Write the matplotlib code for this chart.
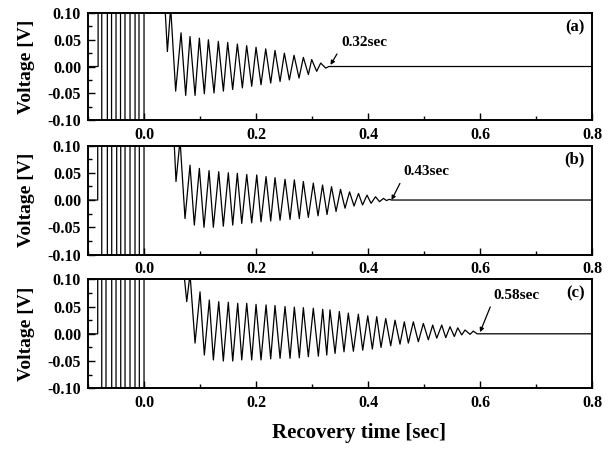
import matplotlib.pyplot as plt
from matplotlib.ticker import MultipleLocator, FormatStrFormatter

plt.rcParams['font.family'] = 'Liberation Serif'
plt.rcParams['font.weight'] = 'bold'
plt.rcParams['axes.unicode_minus'] = False

# saturated switching before the fault clears (sec)
switch_a = [-0.082, -0.0755, -0.0655, -0.058, -0.050, -0.042, -0.034, -0.025, -0.016, -0.009, 0.0]
switch_b = [-0.0827, -0.0755, -0.0655, -0.0577, -0.0488, -0.0416, -0.0339, -0.025, -0.0161, -0.0084, 0.0]
switch_c = [-0.0827, -0.0755, -0.0679, -0.0577, -0.050, -0.0416, -0.0339, -0.025, -0.0161, -0.0084, 0.0]
clip_level = 0.2

# peaks of the decaying oscillation (time, voltage)
osc_t_a = [0.0375, 0.0417, 0.0476, 0.0565, 0.0661, 0.0744, 0.0821, 0.0911, 0.0988, 0.1077,
           0.1149, 0.125, 0.1327, 0.1417, 0.1494, 0.1583, 0.1667, 0.1756, 0.1833, 0.1923,
           0.2, 0.2089, 0.2173, 0.2262, 0.2339, 0.2429, 0.2506, 0.2595, 0.2679, 0.2768,
           0.2845, 0.2935, 0.2994, 0.3083, 0.3155, 0.3244, 0.33]
osc_v_a = [0.11, 0.028, 0.11, -0.046, 0.063, -0.054, 0.056, -0.054, 0.053, -0.051,
           0.050, -0.0495, 0.047, -0.046, 0.045, -0.043, 0.042, -0.040, 0.039, -0.037,
           0.036, -0.034, 0.033, -0.031, 0.030, -0.028, 0.025, -0.025, 0.021, -0.0215,
           0.017, -0.015, 0.013, -0.009, 0.0065, -0.003, 0.0]

osc_t_b = [0.0536, 0.0571, 0.0643, 0.0732, 0.0821, 0.0898, 0.0988, 0.1071, 0.1161, 0.1238,
           0.1334, 0.1416, 0.1505, 0.1584, 0.1666, 0.1745, 0.1834, 0.1923, 0.2013, 0.2089,
           0.2179, 0.2262, 0.2339, 0.2429, 0.2518, 0.2607, 0.2684, 0.2773, 0.2845, 0.2934,
           0.3023, 0.3107, 0.3188, 0.3268, 0.3348, 0.3429, 0.3509, 0.3589, 0.367, 0.375,
           0.383, 0.3902, 0.3982, 0.4054, 0.4134, 0.4205, 0.4277, 0.433, 0.4375, 0.4423]
osc_v_b = [0.11, 0.034, 0.11, -0.034, 0.064, -0.046, 0.058, -0.050, 0.054, -0.050,
           0.052, -0.048, 0.050, -0.046, 0.049, -0.043, 0.047, -0.042, 0.046, -0.040,
           0.043, -0.0385, 0.041, -0.037, 0.038, -0.0355, 0.037, -0.034, 0.034, -0.032,
           0.031, -0.029, 0.0275, -0.0265, 0.0245, -0.021, 0.0196, -0.015, 0.015, -0.011,
           0.012, -0.009, 0.009, -0.006, 0.006, -0.003, 0.003, -0.001, 0.0012, 0.0]

osc_t_c = [0.0714, 0.0763, 0.0821, 0.0911, 0.1, 0.1077, 0.1166, 0.1238, 0.1334, 0.1416,
           0.1505, 0.1584, 0.1673, 0.1745, 0.1834, 0.1923, 0.2, 0.2089, 0.2179, 0.2262,
           0.2339, 0.2429, 0.2518, 0.2607, 0.2684, 0.2773, 0.2845, 0.2934, 0.3023, 0.3113,
           0.3191, 0.3263, 0.3321, 0.3411, 0.3488, 0.3571, 0.3648, 0.3738, 0.3827, 0.3905,
           0.3995, 0.4077, 0.4155, 0.4232, 0.4316, 0.4405, 0.4482, 0.4571, 0.4648, 0.472,
           0.4809, 0.4898, 0.4988, 0.5077, 0.5155, 0.5227, 0.5316, 0.5388, 0.5464, 0.5541,
           0.5602, 0.5673, 0.5732, 0.5821, 0.588, 0.5946]
osc_v_c = [0.11, 0.059, 0.11, -0.017, 0.077, -0.039, 0.062, -0.048, 0.059, -0.050,
           0.058, -0.050, 0.056, -0.048, 0.056, -0.048, 0.054, -0.048, 0.053, -0.046,
           0.052, -0.045, 0.050, -0.045, 0.049, -0.044, 0.048, -0.042, 0.047, -0.041,
           0.045, -0.039, 0.044, -0.036, 0.041, -0.033, 0.038, -0.032, 0.036, -0.030,
           0.033, -0.028, 0.0315, -0.025, 0.028, -0.022, 0.025, -0.019, 0.022, -0.017,
           0.022, -0.0145, 0.019, -0.011, 0.016, -0.008, 0.016, -0.007, 0.013, -0.005,
           0.011, -0.002, 0.007, -0.001, 0.005, 0.0]

panel_labels = ['(a)', '(b)', '(c)']
recovery_labels = ['0.32sec', '0.43sec', '0.58sec']
recovery_tip = [(0.333, 0.003), (0.442, 0.0), (0.600, 0.003)]
recovery_text = [(0.352, 0.044), (0.464, 0.052), (0.624, 0.071)]
t_end = 0.8


def build_trace(switches, osc_t, osc_v):
    xs = [-0.1]
    ys = [0.0]
    level = 0.0
    up = True
    for s in switches:
        new = clip_level if up else -clip_level
        xs += [s, s]
        ys += [level, new]
        level = new
        up = not up
    xs += osc_t + [t_end]
    ys += osc_v + [0.0]
    return xs, ys


fig = plt.figure(figsize=(6.16, 4.5), dpi=100)
boxes = [[0.1429, 0.7333, 0.8182, 0.2378],
         [0.1429, 0.4344, 0.8182, 0.2422],
         [0.1429, 0.1371, 0.8182, 0.2422]]
data = [(switch_a, osc_t_a, osc_v_a), (switch_b, osc_t_b, osc_v_b), (switch_c, osc_t_c, osc_v_c)]

for i in range(3):
    ax = fig.add_axes(boxes[i])
    xs, ys = build_trace(*data[i])
    ax.plot(xs, ys, color='black', lw=0.9)
    ax.set_xlim(-0.1, 0.8)
    ax.set_ylim(-0.10, 0.10)
    ax.xaxis.set_major_locator(MultipleLocator(0.2))
    ax.xaxis.set_minor_locator(MultipleLocator(0.1))
    ax.yaxis.set_major_locator(MultipleLocator(0.05))
    ax.yaxis.set_minor_locator(MultipleLocator(0.025))
    ax.xaxis.set_major_formatter(FormatStrFormatter('%.1f'))
    ax.yaxis.set_major_formatter(FormatStrFormatter('%.2f'))
    ax.tick_params(which='both', direction='in', labelsize=11.5, width=1)
    ax.tick_params(which='major', length=5, pad=5)
    ax.tick_params(which='minor', length=3)
    for sp in ax.spines.values():
        sp.set_linewidth(1.4)
    ax.set_ylabel('Voltage [V]', fontsize=14, fontweight='bold')
    ax.yaxis.set_label_coords(-0.105, 0.5)
    ax.text(0.985, 0.87, panel_labels[i], transform=ax.transAxes, ha='right', va='center',
            fontsize=12, fontweight='bold')
    ax.annotate(recovery_labels[i], xy=recovery_tip[i], xytext=recovery_text[i],
                ha='left', va='center', fontsize=11, fontweight='bold',
                arrowprops=dict(arrowstyle='-|>', color='black', lw=0.9,
                                mutation_scale=6, shrinkA=2, shrinkB=0,
                                relpos=(0.0, 0.2)))

fig.text(0.583, 0.038, 'Recovery time [sec]', ha='center', va='center',
         fontsize=15, fontweight='bold')

fig.savefig('out.png', dpi=100)
